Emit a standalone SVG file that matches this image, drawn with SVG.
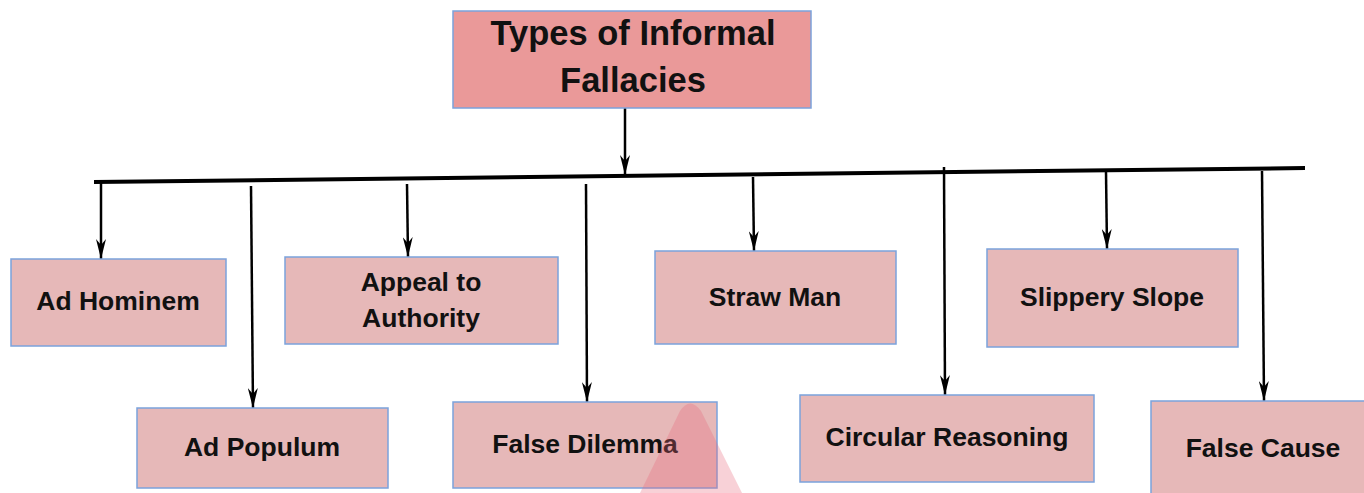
<svg xmlns="http://www.w3.org/2000/svg" width="1364" height="493" viewBox="0 0 1364 493">
<defs>
<style>
.box{fill:#e6b8b8;stroke:#7ba2dc;stroke-width:1.5}
.top{fill:#ea9999;stroke:#7ba2dc;stroke-width:1.5}
text{font-family:"Liberation Sans",Arial,sans-serif;font-weight:bold;fill:#111;text-anchor:middle}
.t{font-size:34.5px}
.l{font-size:26.5px}
.c{stroke:#000;stroke-width:2.5;fill:none}
</style>
<marker id="ah" viewBox="0 0 20 10" refX="20" refY="5" markerWidth="20" markerHeight="10" markerUnits="userSpaceOnUse" orient="auto">
<path d="M0 0 L6 5 L0 10 L20 5 Z" fill="#000"/>
</marker>
</defs>
<rect width="1364" height="493" fill="#fff"/>
<g id="connectors">
<line x1="94" y1="182" x2="1305" y2="168" stroke="#000" stroke-width="4"/>
<line class="c" x1="625" y1="108" x2="625" y2="175" marker-end="url(#ah)"/>
<line class="c" x1="101" y1="182" x2="101" y2="259" marker-end="url(#ah)"/>
<line class="c" x1="251" y1="186" x2="253" y2="408" marker-end="url(#ah)"/>
<line class="c" x1="407" y1="184" x2="408" y2="257" marker-end="url(#ah)"/>
<line class="c" x1="586" y1="184" x2="587" y2="402" marker-end="url(#ah)"/>
<line class="c" x1="753" y1="177" x2="754" y2="251" marker-end="url(#ah)"/>
<line class="c" x1="944" y1="167" x2="945" y2="395" marker-end="url(#ah)"/>
<line class="c" x1="1106" y1="172" x2="1107" y2="249" marker-end="url(#ah)"/>
<line class="c" x1="1262" y1="171" x2="1264" y2="401" marker-end="url(#ah)"/>
</g>
<g id="root">
<rect class="top" x="453" y="11" width="358" height="97"/>
<text class="t" x="633" y="45">Types of Informal</text>
<text class="t" x="633" y="92">Fallacies</text>
</g>
<g id="ad-hominem">
<rect class="box" x="11" y="259" width="215" height="87"/>
<text class="l" x="118" y="310">Ad Hominem</text>
</g>
<g id="appeal-to-authority">
<rect class="box" x="285" y="257" width="273" height="87"/>
<text class="l" x="421" y="291">Appeal to</text>
<text class="l" x="421" y="327">Authority</text>
</g>
<g id="straw-man">
<rect class="box" x="655" y="251" width="241" height="93"/>
<text class="l" x="775" y="306">Straw Man</text>
</g>
<g id="slippery-slope">
<rect class="box" x="987" y="249" width="251" height="98"/>
<text class="l" x="1112" y="306">Slippery Slope</text>
</g>
<g id="ad-populum">
<rect class="box" x="137" y="408" width="251" height="80"/>
<text class="l" x="262" y="456">Ad Populum</text>
</g>
<g id="false-dilemma">
<rect class="box" x="453" y="402" width="264" height="86"/>
<text class="l" x="585" y="453">False Dilemma</text>
</g>
<g id="circular-reasoning">
<rect class="box" x="800" y="395" width="294" height="87"/>
<text class="l" x="947" y="446">Circular Reasoning</text>
</g>
<g id="false-cause">
<rect class="box" x="1151" y="401" width="220" height="100"/>
<text class="l" x="1263" y="457">False Cause</text>
</g>
<path d="M640 493 L680 411 Q690 396 701 411 L742 493 Z" fill="#e8667a" fill-opacity="0.3"/>
</svg>
